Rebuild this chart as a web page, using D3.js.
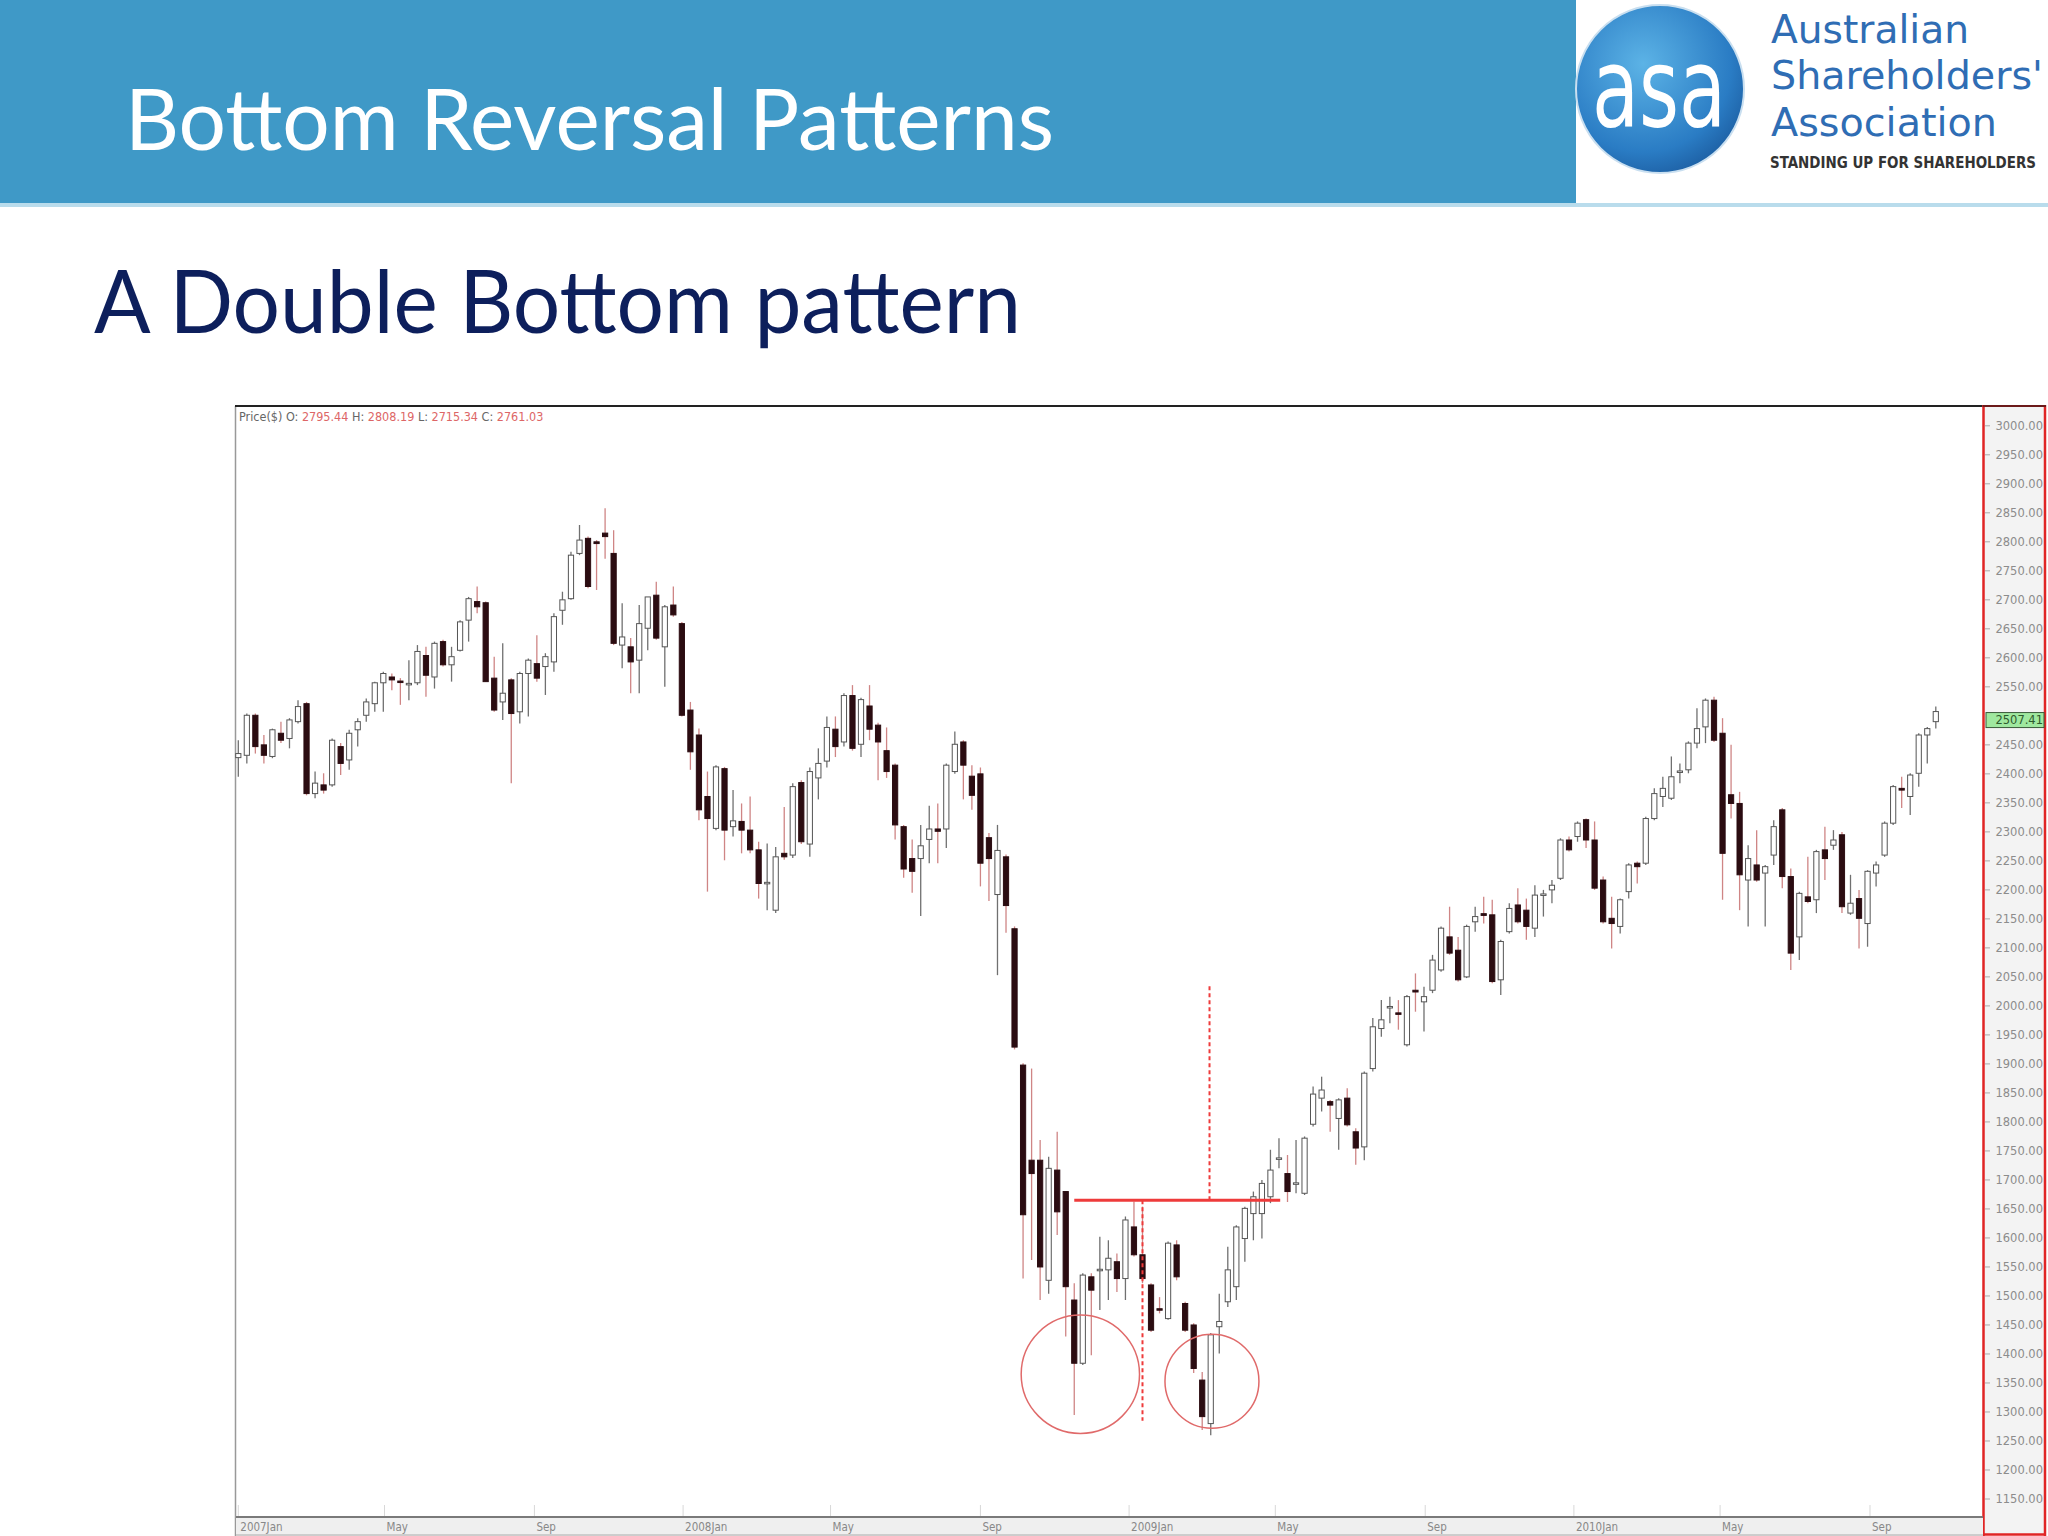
<!DOCTYPE html>
<html><head><meta charset="utf-8">
<script src="https://cdn.jsdelivr.net/npm/d3@7"></script>
<style>body{margin:0;background:#fff}svg{display:block}</style>
</head><body><svg id="c" width="2048" height="1536"></svg>
<script>
// ---- data (weekly candles, Jan 2007 - Oct 2010) ----
const opens=[2428,2432,2501,2450,2430,2470,2461,2490,2521,2366,2381,2381,2447,2424,2476,2501,2521,2557,2567,2560,2555,2557,2604,2567,2628,2588,2613,2665,2697,2695,2565,2524,2562,2507,2573,2590,2585,2593,2682,2702,2780,2806,2800,2815,2780,2622,2619,2596,2651,2708,2619,2691,2659,2510,2467,2361,2306,2409,2309,2318,2303,2269,2211,2165,2263,2260,2385,2279,2393,2422,2477,2455,2535,2451,2517,2484,2440,2415,2309,2254,2254,2287,2305,2305,2404,2455,2396,2400,2290,2192,2257,2133,1898,1734,1734,1527,1717,1680,1493,1384,1533,1544,1545,1559,1530,1619,1571,1519,1478,1461,1588,1487,1450,1355,1280,1447,1490,1516,1599,1642,1642,1671,1736,1711,1693,1677,1796,1841,1835,1806,1841,1783,1757,1892,1961,1998,1988,1933,2027,2007,2027,2062,2119,2096,2050,2145,2159,2157,2045,2128,2174,2165,2134,2191,2200,2220,2286,2292,2321,2286,2217,2151,2137,2197,2246,2246,2323,2361,2358,2403,2407,2453,2481,2527,2470,2364,2349,2217,2243,2229,2260,2338,2223,2119,2188,2183,2269,2277,2295,2160,2185,2142,2229,2260,2315,2375,2361,2401,2467,2490];
const highs=[2458,2504,2504,2467,2478,2490,2496,2527,2524,2404,2401,2461,2453,2476,2496,2530,2559,2576,2573,2565,2596,2622,2619,2628,2631,2619,2665,2705,2723,2697,2602,2625,2565,2576,2599,2639,2608,2677,2714,2783,2829,2809,2803,2858,2820,2694,2634,2691,2705,2731,2691,2723,2662,2524,2478,2404,2415,2412,2372,2349,2361,2283,2280,2274,2343,2384,2389,2411,2444,2499,2499,2539,2553,2531,2553,2488,2480,2418,2312,2287,2312,2345,2349,2418,2473,2458,2415,2411,2298,2312,2261,2137,1901,1892,1769,1740,1783,1680,1522,1539,1539,1602,1596,1573,1637,1663,1654,1522,1498,1594,1596,1490,1453,1369,1436,1504,1585,1622,1654,1680,1700,1752,1772,1743,1769,1775,1861,1878,1838,1841,1858,1789,1887,1979,2010,2016,2010,2019,2056,2033,2088,2137,2171,2119,2140,2171,2188,2183,2114,2177,2203,2185,2208,2200,2217,2289,2292,2318,2323,2318,2223,2188,2185,2246,2249,2326,2375,2395,2430,2418,2456,2513,2530,2533,2496,2450,2369,2277,2303,2243,2320,2341,2237,2197,2257,2269,2309,2303,2300,2226,2200,2234,2249,2318,2381,2395,2401,2470,2481,2516];
const lows=[2395,2418,2435,2418,2427,2453,2444,2487,2363,2358,2366,2378,2398,2407,2447,2490,2507,2507,2544,2519,2527,2553,2533,2547,2585,2559,2611,2628,2677,2559,2507,2493,2384,2487,2499,2559,2536,2576,2657,2700,2777,2720,2717,2771,2622,2582,2539,2539,2613,2631,2550,2671,2499,2407,2320,2197,2303,2251,2292,2263,2263,2185,2165,2160,2252,2255,2279,2257,2356,2411,2429,2447,2440,2429,2458,2389,2393,2287,2221,2195,2155,2246,2246,2272,2400,2356,2338,2206,2181,2053,2126,1925,1530,1562,1493,1504,1605,1430,1295,1381,1398,1476,1493,1507,1493,1568,1522,1438,1470,1459,1527,1438,1367,1269,1260,1401,1481,1493,1559,1596,1599,1660,1720,1662,1677,1674,1792,1818,1783,1752,1792,1726,1734,1887,1947,1970,1959,1930,1990,1956,2022,2059,2088,2042,2048,2128,2142,2039,2019,2125,2142,2114,2119,2154,2177,2217,2266,2283,2272,2200,2142,2099,2125,2185,2211,2243,2320,2343,2355,2384,2401,2444,2453,2455,2183,2323,2165,2137,2214,2137,2243,2203,2062,2079,2177,2160,2217,2269,2160,2157,2099,2102,2206,2257,2312,2341,2329,2378,2418,2478];
const closes=[2435,2501,2447,2432,2476,2458,2493,2516,2366,2384,2372,2458,2418,2470,2490,2524,2557,2573,2562,2558,2556,2611,2570,2625,2588,2602,2662,2702,2688,2559,2510,2539,2504,2573,2596,2565,2602,2671,2700,2777,2803,2723,2797,2809,2625,2636,2593,2659,2705,2634,2688,2674,2501,2438,2338,2323,2412,2303,2319,2303,2269,2211,2213,2257,2257,2378,2283,2404,2418,2480,2447,2535,2444,2528,2477,2455,2404,2312,2236,2232,2276,2305,2301,2415,2451,2415,2363,2246,2254,2268,2173,1929,1640,1711,1550,1720,1645,1516,1384,1536,1510,1546,1565,1530,1631,1571,1530,1441,1476,1591,1533,1441,1375,1292,1433,1456,1545,1619,1651,1671,1694,1717,1738,1680,1695,1772,1848,1855,1829,1838,1795,1755,1884,1964,1976,1999,1986,2016,2024,2016,2079,2134,2091,2045,2137,2154,2156,2042,2111,2168,2145,2137,2191,2193,2208,2286,2269,2315,2286,2203,2145,2142,2183,2243,2240,2323,2366,2375,2395,2405,2453,2478,2527,2458,2263,2349,2226,2254,2217,2240,2309,2223,2091,2194,2180,2266,2254,2286,2171,2177,2151,2232,2243,2315,2378,2372,2398,2467,2478,2507.41];
const yTickValues=[3000,2950,2900,2850,2800,2750,2700,2650,2600,2550,2450,2400,2350,2300,2250,2200,2150,2100,2050,2000,1950,1900,1850,1800,1750,1700,1650,1600,1550,1500,1450,1400,1350,1300,1250,1200,1150];
const xTickDates=["2007-01-01","2007-05-01","2007-09-01","2008-01-01","2008-05-01","2008-09-01","2009-01-01","2009-05-01","2009-09-01","2010-01-01","2010-05-01","2010-09-01"];
const xTickLabels=["2007Jan","May","Sep","2008Jan","May","Sep","2009Jan","May","Sep","2010Jan","May","Sep"];
// annotations
const necklinePrice=1665, necklineFrom="2008-11-17", necklineTo="2009-05-05";
const targetLine={date:"2009-03-08", from:2034, to:1665};
const midLine={date:"2009-01-12", from:1665, to:1285};
const bottoms=[{date:"2008-11-22", price:1365, r:102},{date:"2009-03-10", price:1353, r:81}];
const info={label:"Price($)", O:"2795.44", H:"2808.19", L:"2715.34", C:"2761.03"};

const P=d3.timeParse("%Y-%m-%d");
const dates=d3.timeMonday.range(new Date(2007,0,1), new Date(2010,9,26));
const svg=d3.select("#c");

// ---- header ----
svg.append("rect").attr("x",0).attr("y",0).attr("width",1576).attr("height",205).attr("fill","#3f99c7");
svg.append("rect").attr("x",0).attr("y",203).attr("width",2048).attr("height",4).attr("fill","#b9dcec");
svg.append("text").attr("x",125).attr("y",150).attr("font-family","Lato, 'Open Sans', sans-serif")
  .attr("font-size",86).attr("fill","#fff").attr("textLength",929).attr("lengthAdjust","spacingAndGlyphs")
  .text("Bottom Reversal Patterns");
// logo
const defs=svg.append("defs");
const rg=defs.append("radialGradient").attr("id","lg").attr("cx","40%").attr("cy","35%").attr("r","70%");
rg.append("stop").attr("offset","0%").attr("stop-color","#5cb3e6");
rg.append("stop").attr("offset","75%").attr("stop-color","#2a7cc4");
rg.append("stop").attr("offset","100%").attr("stop-color","#1d5fa3");
svg.append("circle").attr("cx",1660).attr("cy",89).attr("r",84).attr("fill","url(#lg)").attr("stroke","#c9dff0").attr("stroke-width",2);
svg.append("text").attr("x",1659).attr("y",126).attr("text-anchor","middle")
  .attr("font-family","'DejaVu Sans Condensed','DejaVu Sans',sans-serif").attr("font-stretch","condensed")
  .attr("font-size",110).attr("fill","#fff").attr("textLength",134).attr("lengthAdjust","spacingAndGlyphs").text("asa");
const lt=[["Australian",43,198],["Shareholders'",89,272],["Association",136,226]];
lt.forEach(d=>svg.append("text").attr("x",1771).attr("y",d[1]).attr("font-family","'DejaVu Sans Condensed','DejaVu Sans',sans-serif")
  .attr("font-stretch","condensed").attr("font-size",39).attr("fill","#2f6db4").attr("textLength",d[2]).attr("lengthAdjust","spacingAndGlyphs").text(d[0]));
svg.append("text").attr("x",1770).attr("y",168).attr("font-family","'DejaVu Sans Condensed','DejaVu Sans',sans-serif")
  .attr("font-weight","bold").attr("font-size",15).attr("fill","#333").attr("textLength",266).attr("lengthAdjust","spacingAndGlyphs")
  .text("STANDING UP FOR SHAREHOLDERS");

// subtitle
svg.append("text").attr("x",94).attr("y",333).attr("font-family","Lato, 'Open Sans', sans-serif")
  .attr("font-size",88).attr("fill","#0d1f5c").attr("textLength",927).attr("lengthAdjust","spacingAndGlyphs")
  .text("A Double Bottom pattern");

// ---- chart ----
const x=d3.scaleTime().domain([dates[0],dates[dates.length-1]]).range([238.3,1935.8]);
const y=d3.scaleLinear().domain([1150,3000]).range([1499,425.8]);

// frame
svg.append("line").attr("x1",235.5).attr("x2",235.5).attr("y1",406).attr("y2",1536).attr("stroke","#999").attr("stroke-width",1.5);
svg.append("line").attr("x1",235).attr("x2",1983).attr("y1",406).attr("y2",406).attr("stroke","#222").attr("stroke-width",2);

// info text
const it=svg.append("text").attr("x",239).attr("y",421).attr("font-family","'DejaVu Sans Condensed','DejaVu Sans',sans-serif").attr("font-size",12.5);
it.append("tspan").attr("fill","#666").text(info.label+"  O: ");
it.append("tspan").attr("fill","#d66").text(info.O);
it.append("tspan").attr("fill","#666").text("  H: ");
it.append("tspan").attr("fill","#d66").text(info.H);
it.append("tspan").attr("fill","#666").text("  L: ");
it.append("tspan").attr("fill","#d66").text(info.L);
it.append("tspan").attr("fill","#666").text("  C: ");
it.append("tspan").attr("fill","#d66").text(info.C);

// candles
const g=svg.append("g");
const cd=dates.map((d,i)=>({d,o:opens[i],h:highs[i],l:lows[i],c:closes[i]}));
g.selectAll("line.w").data(cd).join("line").attr("class","w")
  .attr("x1",d=>x(d.d)).attr("x2",d=>x(d.d)).attr("y1",d=>y(d.h)).attr("y2",d=>y(d.l))
  .attr("stroke",d=>d.c>=d.o?"#707070":"#cf8585").attr("stroke-width",1.3);
g.selectAll("rect.b").data(cd).join("rect").attr("class","b")
  .attr("x",d=>x(d.d)-2.6).attr("width",5.2)
  .attr("y",d=>y(Math.max(d.o,d.c))).attr("height",d=>Math.max(1.5,Math.abs(y(d.o)-y(d.c))))
  .attr("fill",d=>d.c>=d.o?"#fff":"#2b0c11").attr("stroke",d=>d.c>=d.o?"#555":"#2b0c11").attr("stroke-width",1);

// annotations
const red="#ee3b3b";
svg.append("line").attr("x1",x(P(necklineFrom))).attr("x2",x(P(necklineTo))).attr("y1",y(necklinePrice)).attr("y2",y(necklinePrice))
  .attr("stroke",red).attr("stroke-width",3);
[targetLine,midLine].forEach(l=>svg.append("line").attr("x1",x(P(l.date))).attr("x2",x(P(l.date)))
  .attr("y1",y(l.from)).attr("y2",y(l.to)).attr("stroke",red).attr("stroke-width",2).attr("stroke-dasharray","4,3"));
bottoms.forEach(b=>svg.append("circle").attr("cx",x(P(b.date))).attr("cy",y(b.price)).attr("r",y(b.price-b.r)-y(b.price))
  .attr("fill","none").attr("stroke","#e06a6a").attr("stroke-width",1.5));

// right axis panel
svg.append("rect").attr("x",1983).attr("y",406).attr("width",62).attr("height",1129).attr("fill","#f3f3f3");
svg.append("line").attr("x1",1983.5).attr("x2",1983.5).attr("y1",405).attr("y2",1536).attr("stroke","#e02525").attr("stroke-width",2.5);
svg.append("line").attr("x1",2045).attr("x2",2045).attr("y1",405).attr("y2",1536).attr("stroke","#e02525").attr("stroke-width",2.5);
svg.append("line").attr("x1",1983).attr("x2",2046).attr("y1",1534.5).attr("y2",1534.5).attr("stroke","#e02525").attr("stroke-width",2.5);
svg.append("line").attr("x1",1983).attr("x2",2046).attr("y1",406).attr("y2",406).attr("stroke","#6b1a1a").attr("stroke-width",2);
const ya=svg.append("g");
ya.selectAll("line").data(yTickValues).join("line").attr("x1",1985).attr("x2",1990).attr("y1",d=>y(d)).attr("y2",d=>y(d)).attr("stroke","#aaa");
ya.selectAll("text").data(yTickValues).join("text").attr("x",2043).attr("y",d=>y(d)).attr("dy","0.35em").attr("text-anchor","end")
  .attr("font-family","'DejaVu Sans',sans-serif").attr("font-size",11.5).attr("fill","#8c8c8c").text(d=>d3.format(".2f")(d));
const lastC=closes[closes.length-1];
svg.append("rect").attr("x",1986).attr("y",y(lastC)+1).attr("width",58).attr("height",15).attr("fill","#9fe89f").attr("stroke","#3a5a3a").attr("stroke-width",1);
svg.append("text").attr("x",2043).attr("y",y(lastC)+8.5).attr("dy","0.35em").attr("text-anchor","end")
  .attr("font-family","'DejaVu Sans',sans-serif").attr("font-size",11.5).attr("fill","#2d5a2d").text(d3.format(".2f")(lastC));

// bottom axis
svg.append("rect").attr("x",236).attr("y",1517).attr("width",1747).attr("height",19).attr("fill","#efefef");
svg.append("line").attr("x1",236).attr("x2",1983).attr("y1",1517).attr("y2",1517).attr("stroke","#7a7a7a").attr("stroke-width",2);
svg.append("line").attr("x1",236).attr("x2",1983).attr("y1",1535).attr("y2",1535).attr("stroke","#aaa").attr("stroke-width",1);
const xa=svg.append("g");
const xt=xTickDates.map((d,i)=>({d:P(d),t:xTickLabels[i]}));
xa.selectAll("line").data(xt).join("line").attr("x1",d=>x(d.d)).attr("x2",d=>x(d.d)).attr("y1",1505).attr("y2",1516).attr("stroke","#d8d8d8");
xa.selectAll("text").data(xt).join("text").attr("x",d=>x(d.d)+2).attr("y",1531)
  .attr("font-family","'DejaVu Sans Condensed','DejaVu Sans',sans-serif").attr("font-size",11.5).attr("fill","#888").text(d=>d.t);
</script></body></html>
